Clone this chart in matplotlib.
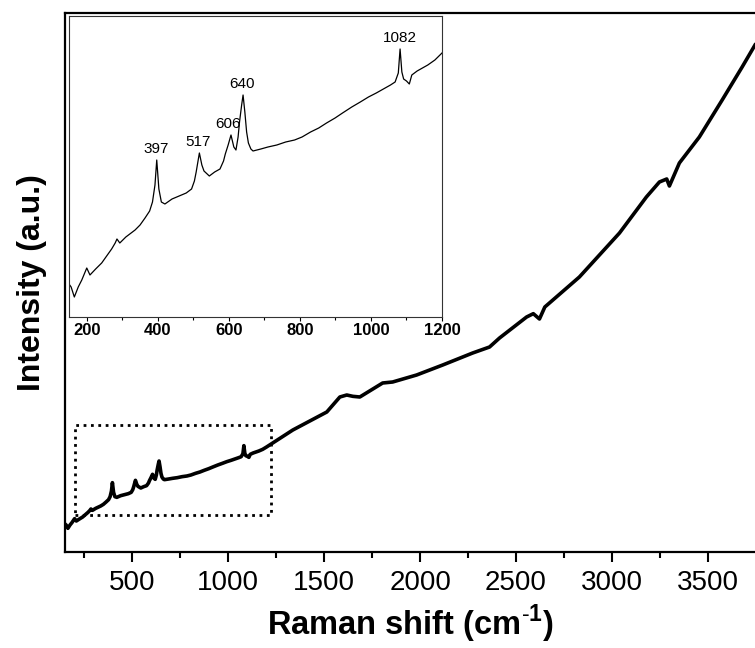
import matplotlib
matplotlib.use("Agg")
import matplotlib.pyplot as plt
from matplotlib.patches import Rectangle
from matplotlib.ticker import MultipleLocator

plt.rcParams['font.family'] = ['Liberation Sans', 'DejaVu Sans']
plt.rcParams['mathtext.fontset'] = 'custom'
plt.rcParams['mathtext.rm'] = 'Liberation Sans'
plt.rcParams['mathtext.bf'] = 'Liberation Sans:bold'

# Raman spectrum (shift in cm-1, intensity in arbitrary counts)
shift = [150, 156, 165, 176, 186, 200, 209, 225, 242, 256, 270, 280, 285, 293,
         310, 336, 350, 364, 377, 385, 392, 397, 403, 410, 420, 440, 460, 480,
         495, 503, 508, 517, 524, 530, 545, 560, 575, 585, 590, 598, 606, 614,
         620, 626, 630, 636, 640, 645, 650, 655, 662, 668, 690, 710, 735, 760,
         785, 806, 830, 853, 875, 899, 920, 946, 970, 993, 1015, 1040, 1055,
         1068, 1077, 1082, 1087, 1092, 1100, 1108, 1115, 1130, 1145, 1160,
         1180, 1200, 1337, 1514, 1582, 1618, 1650, 1686, 1805, 1857, 1982,
         2118, 2274, 2362, 2414, 2555, 2590, 2622, 2650, 2674, 2830, 3039,
         3179, 3247, 3285, 3299, 3351, 3455, 3574, 3678, 3745]
intensity = [33, 30, 20, 30, 37, 49, 42, 48, 54, 61, 68, 74, 78, 74,
             80, 87, 92, 99, 106, 115, 132, 157, 128, 115, 113, 118, 121, 124,
             128, 136, 145, 164, 152, 146, 141, 145, 148, 156, 163, 172, 182, 170,
             167, 180, 195, 212, 222, 205, 185, 174, 168, 166, 168, 170, 172, 175,
             177, 180, 185, 189, 194, 199, 204, 210, 215, 220, 224, 229, 232,
             235, 244, 268, 245, 238, 236, 233, 242, 246, 249, 252,
             257, 264, 315, 369, 414, 420, 416, 414, 456, 459, 480,
             510, 546, 564, 591, 654, 664, 648, 684, 696, 774, 906,
             1014, 1059, 1068, 1047, 1116, 1194, 1305, 1404, 1470]

# labelled bands in the low-wavenumber region
peaks = [397, 517, 606, 640, 1082]
peak_heights = [157, 164, 182, 222, 268]
label_dx = [-2, -3, -9, -2, -1]

fig = plt.figure(figsize=(7.55, 6.48), dpi=100)

# main spectrum
ax = fig.add_axes([65 / 755, 96 / 648, 690 / 755, 539 / 648])
ax.plot(shift, intensity, color='black', linewidth=2.6)
ax.set_xlim(150, 3745)
ax.set_ylim(-51, 1566)
ax.xaxis.set_major_locator(MultipleLocator(500))
ax.xaxis.set_minor_locator(MultipleLocator(250))
ax.set_yticks([])
ax.spines['right'].set_visible(False)
for s in ['left', 'top', 'bottom']:
    ax.spines[s].set_linewidth(1.6)
ax.tick_params(axis='x', which='major', direction='out', length=7, width=1.5,
               labelsize=20, pad=6)
ax.tick_params(axis='x', which='minor', direction='out', length=4, width=1.5)
ax.set_xlabel(r'Raman shift (cm$^{\mathbf{\text{-}1}}$)', fontsize=23.5,
              fontweight='bold', labelpad=5)
ax.set_ylabel('Intensity (a.u.)', fontsize=23, fontweight='bold', labelpad=13)

# dotted box marking the zoomed range
ax.add_patch(Rectangle((203, 60), 1020, 270, fill=False, linestyle=':',
                       linewidth=2, edgecolor='black'))

# inset: 150-1200 cm-1
axin = fig.add_axes([69 / 755, 331 / 648, 373 / 755, 301 / 648])
axin.plot(shift, intensity, color='black', linewidth=0.9)
axin.set_xlim(150, 1200)
axin.set_ylim(0, 301)
axin.xaxis.set_major_locator(MultipleLocator(200))
axin.xaxis.set_minor_locator(MultipleLocator(100))
axin.set_yticks([])
for s in axin.spines.values():
    s.set_linewidth(0.8)
    s.set_color('#333333')
axin.tick_params(axis='x', which='major', direction='out', length=3, width=0.8,
                 labelsize=12, pad=1.5)
axin.tick_params(axis='x', which='minor', direction='out', length=2, width=0.8)
for lbl in axin.get_xticklabels():
    lbl.set_fontweight('bold')

for p, h, dx in zip(peaks, peak_heights, label_dx):
    axin.annotate(str(p), xy=(p + dx, h), xytext=(0, 3),
                  textcoords='offset points', ha='center', va='bottom',
                  fontsize=11)

fig.savefig('out.png', dpi=100)
